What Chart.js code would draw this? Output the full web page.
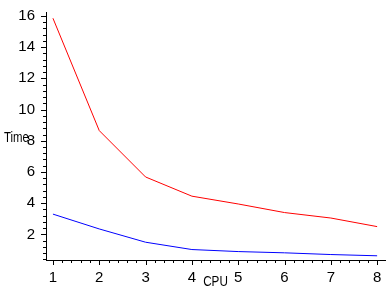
<!DOCTYPE html>
<html>
<head>
<meta charset="utf-8">
<script src="https://cdn.jsdelivr.net/npm/chart.js@4/dist/chart.umd.min.js"></script>
<style>
body { margin: 0; background: #fff; }
#wrap { width: 388px; height: 288px; }
</style>
</head>
<body>
<div id="wrap"><canvas id="myChart" width="388" height="288"></canvas></div>
<script>
// values
const cpus = [1, 2, 3, 4, 5, 6, 7, 8];
const timeRed = [15.85, 8.65, 5.68, 4.45, 3.95, 3.4, 3.05, 2.5];
const timeBlue = [3.3, 2.35, 1.5, 1.03, 0.9, 0.82, 0.71, 0.63];

const xTicks = [1, 2, 3, 4, 5, 6, 7, 8];
const yTicks = [2, 4, 6, 8, 10, 12, 14, 16];
const yLabel = "Time";
const xLabel = "CPU";

const FONT = "'Liberation Sans', Arial, sans-serif";

// narrow-ish text like the original plot labels
function narrowText(ctx, txt, x, y, align, sx) {
    ctx.save();
    ctx.font = "15px " + FONT;
    ctx.textBaseline = "alphabetic";
    const w = ctx.measureText(txt).width * sx;
    const left = align === "center" ? x - w / 2 : x;
    ctx.translate(left, y);
    ctx.scale(sx, 1);
    ctx.fillText(txt, 0, 0);
    ctx.restore();
}

// small tick marks along both axes + axis labels
const axisDecor = {
    id: "axisDecor",
    afterDraw(chart) {
        const ctx = chart.ctx;
        const xs = chart.scales.x;
        const ys = chart.scales.y;
        const area = chart.chartArea;
        ctx.save();
        ctx.strokeStyle = "#000";
        ctx.lineWidth = 1;
        ctx.beginPath();
        for (let i = 5; i <= 81; i++) {
            const v = i / 10;
            if (v < xs.min || v > xs.max) continue;
            const px = Math.round(xs.getPixelForValue(v)) + 0.5;
            const len = (i % 10 === 0) ? 5 : (i % 2 === 0 ? 3 : 0);
            if (!len) continue;
            ctx.moveTo(px, area.bottom);
            ctx.lineTo(px, area.bottom + len);
        }
        for (let i = 1; i <= 40; i++) {
            const v = i * 0.4;
            if (v < ys.min || v > ys.max) continue;
            const py = Math.round(ys.getPixelForValue(v)) + 0.5;
            const len = (i % 5 === 0) ? 5 : 3;
            ctx.moveTo(area.left, py);
            ctx.lineTo(area.left - len, py);
        }
        ctx.stroke();
        ctx.fillStyle = "#000";
        narrowText(ctx, yLabel, 4, 142, "left", 0.76);
        narrowText(ctx, xLabel, (area.left + area.right) / 2, 286, "center", 0.78);
        ctx.restore();
    }
};

const ctx = document.getElementById("myChart");
new Chart(ctx, {
    type: "line",
    data: {
        datasets: [{
            data: cpus.map((c, i) => ({x: c, y: timeRed[i]})),
            borderColor: "rgb(255,0,0)",
            borderWidth: 1,
            pointRadius: 0,
            tension: 0
        }, {
            data: cpus.map((c, i) => ({x: c, y: timeBlue[i]})),
            borderColor: "rgb(0,0,255)",
            borderWidth: 1,
            pointRadius: 0,
            tension: 0
        }]
    },
    options: {
        responsive: false,
        animation: false,
        layout: {padding: {top: 8, right: 3, left: 0, bottom: 0}},
        plugins: {legend: {display: false}, tooltip: {enabled: false}},
        scales: {
            x: {
                type: "linear",
                min: 0.85,
                max: 8.17,
                afterBuildTicks: s => { s.ticks = xTicks.map(v => ({value: v})); },
                afterFit: s => { s.height = 28; },
                grid: {display: false},
                border: {display: true, color: "#000", width: 1},
                ticks: {color: "#000", font: {family: FONT, size: 15}, padding: 1, autoSkip: false, maxRotation: 0}
            },
            y: {
                min: 0.36,
                max: 16.25,
                afterBuildTicks: s => { s.ticks = yTicks.map(v => ({value: v})); },
                afterFit: s => { s.width = 46; },
                grid: {display: false},
                border: {display: true, color: "#000", width: 1},
                ticks: {color: "#000", font: {family: FONT, size: 15}, padding: 3, autoSkip: false}
            }
        }
    },
    plugins: [axisDecor]
});
</script>
</body>
</html>
